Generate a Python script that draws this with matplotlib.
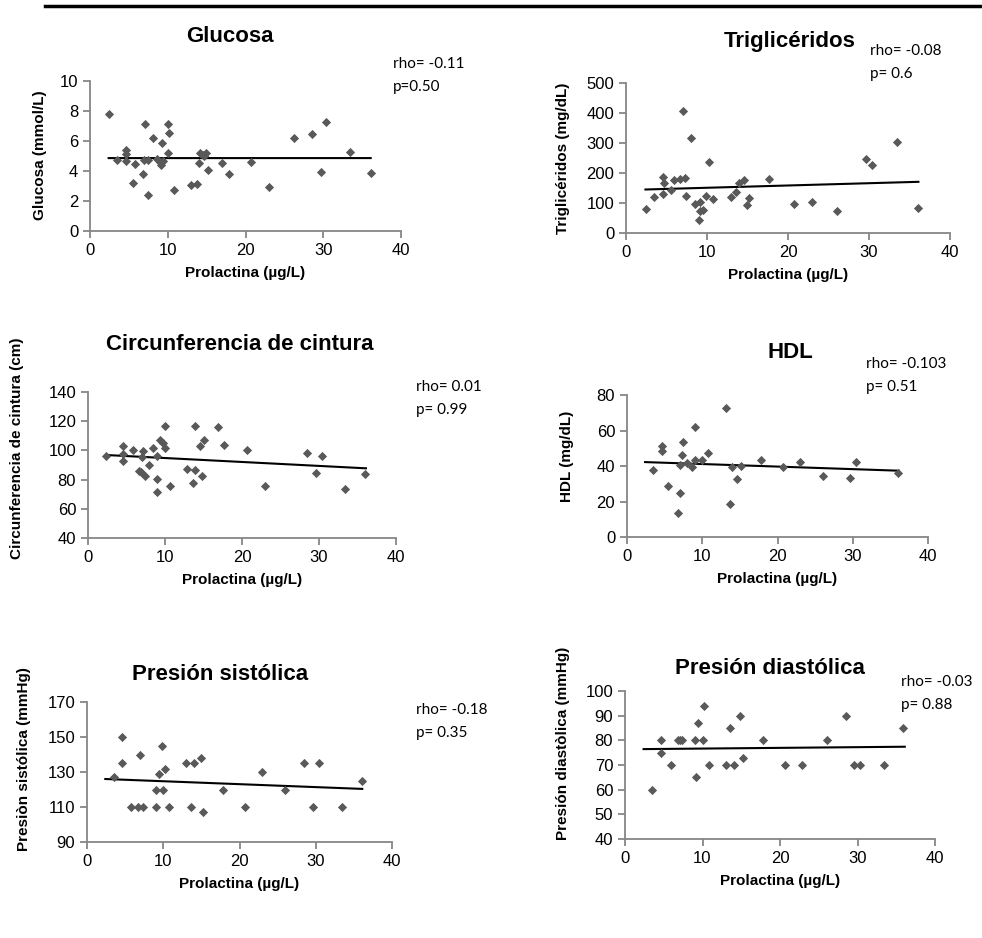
import numpy as np
import matplotlib
matplotlib.use("Agg")
import matplotlib.pyplot as plt

plt.rcParams['font.family'] = ['Liberation Sans', 'DejaVu Sans']

# prolactina (x) and each variable (y)
glu_x = [2.5, 3.5, 4.6, 4.6, 4.6, 5.5, 5.8, 6.8, 7.1, 7.0, 7.4, 7.5, 8.1, 8.6, 9.2, 9.0, 9.1, 9.4, 10.0, 10.2,
         10.0, 10.8, 13.0, 13.7, 14.1, 14.0, 14.5, 14.7, 14.9, 15.2, 17.0, 17.9, 20.7, 23.0, 26.2, 28.5, 29.7, 30.4, 33.5, 36.1]
glu_y = [7.78, 4.7, 5.38, 5.15, 4.64, 3.22, 4.44, 3.82, 7.1, 4.7, 4.75, 2.38, 6.2, 4.82, 5.87, 4.6, 4.38, 4.67, 7.16, 6.53,
         5.22, 2.76, 3.04, 3.11, 5.22, 4.56, 5.04, 4.98, 5.2, 4.09, 4.56, 3.8, 4.6, 2.96, 6.2, 6.44, 3.91, 7.27, 5.27, 3.89]

tg_x = [2.5, 3.5, 4.6, 4.7, 4.6, 5.5, 5.9, 6.7, 7.3, 7.0, 7.4, 8.0, 8.5, 9.1, 9.1, 9.0, 9.5, 10.2, 9.9, 10.7,
        13.0, 13.6, 14.0, 14.6, 14.9, 15.2, 17.7, 20.7, 23.0, 26.1, 29.6, 30.4, 33.4, 36.0]
tg_y = [80, 121, 187, 167, 131, 144, 176, 180, 182, 407, 122, 318, 96, 102, 72, 44, 78, 237, 122, 113,
        120, 136, 167, 178, 94, 116, 181, 96, 104, 74, 247, 227, 304, 84]

cc_x = [2.4, 4.5, 4.5, 4.5, 5.8, 7.0, 7.2, 6.6, 6.9, 7.4, 7.9, 8.5, 9.0, 9.0, 8.9, 9.4, 9.8, 10.0, 10.0, 10.7,
        12.9, 13.6, 13.9, 13.9, 14.5, 14.8, 15.1, 16.9, 17.7, 20.7, 23.0, 28.5, 29.6, 30.4, 33.4, 36.0]
cc_y = [96, 103, 97.7, 92.9, 100, 95.4, 99.4, 86.2, 85.5, 82.5, 89.9, 101.9, 95.9, 80.2, 71.6, 107, 105, 117, 101.9, 75.6,
        87.1, 77.9, 86.6, 117, 103, 82.7, 107, 116, 104, 100, 75.8, 98.2, 84.8, 95.9, 73.7, 83.9]

hdl_x = [3.5, 4.6, 4.6, 5.5, 6.8, 7.1, 7.0, 7.3, 7.5, 8.0, 8.6, 9.0, 9.1, 10.0, 10.8, 13.1, 13.7, 14.0, 14.6, 15.2,
         17.8, 20.7, 23.0, 26.1, 29.6, 30.4, 36.0]
hdl_y = [37.6, 51.4, 48.4, 28.8, 13.8, 24.7, 40.4, 46.2, 53.8, 41.9, 39.3, 62.1, 43.2, 43.2, 47.3, 72.9, 18.7, 39.3, 32.5, 40,
         43.2, 39.6, 42.4, 34.4, 33.3, 42.2, 35.9]

pas_x = [3.5, 4.6, 4.6, 5.8, 6.7, 7.0, 7.4, 9.0, 9.1, 9.5, 9.9, 10.0, 10.2, 10.8, 13.0, 13.7, 14.0, 14.9, 15.2, 17.9,
         20.7, 23.0, 26.0, 28.5, 29.6, 30.4, 33.4, 36.0]
pas_y = [127, 135, 150, 110, 110, 140, 110, 120, 110, 129, 145, 120, 132, 110, 135, 110, 135, 138, 107, 120,
         110, 130, 120, 135, 110, 135, 110, 125]

pad_x = [3.5, 4.6, 4.7, 5.9, 6.8, 7.1, 7.4, 9.1, 9.0, 9.4, 10.0, 10.2, 10.8, 13.0, 13.6, 14.0, 14.9, 15.2, 17.8,
         20.7, 22.9, 26.1, 28.5, 29.5, 30.3, 33.4, 35.9]
pad_y = [60, 75, 80, 70, 80, 80, 80, 65, 80, 87, 80, 94, 70, 70, 85, 70, 90, 73, 80,
         70, 70, 80, 90, 70, 70, 70, 85]

titles = ["Glucosa", "Triglicéridos", "Circunferencia de cintura", "HDL", "Presión sistólica", "Presión diastólica"]
ylabels = ["Glucosa (mmol/L)", "Triglicéridos (mg/dL)", "Circunferencia de cintura (cm)", "HDL (mg/dL)",
           "Presiòn sistólica (mmHg)", "Presión diastòlica (mmHg)"]
stats = [("rho= -0.11", "p=0.50"), ("rho= -0.08", "p= 0.6"), ("rho= 0.01", "p= 0.99"),
         ("rho= -0.103", "p= 0.51"), ("rho= -0.18", "p= 0.35"), ("rho= -0.03", "p= 0.88")]
yticks = [np.arange(0, 11, 2), np.arange(0, 501, 100), np.arange(40, 141, 20),
          np.arange(0, 81, 20), np.arange(90, 171, 20), np.arange(40, 101, 10)]

W, H = 982, 938
fig = plt.figure(figsize=(W / 100, H / 100), dpi=100)

# axes boxes in pixels: left, right, top, bottom
boxes = [(90, 401, 81, 231), (626, 950, 83, 233), (88, 396, 392, 538),
         (627, 928, 395, 537), (87, 392, 702, 842), (625, 935, 691, 839)]
# title (x, y), stats (x, y of first line), ylabel (x, y)
title_pos = [(230, 36), (790, 42), (240, 345), (790, 352), (220, 675), (770, 668)]
stat_pos = [(393, 64), (870, 51), (416, 387), (866, 364), (416, 710), (901, 682)]
ylab_pos = [(40, 155), (563, 158), (17, 448), (567, 456), (24, 759), (563, 743)]

series = [(glu_x, glu_y), (tg_x, tg_y), (cc_x, cc_y), (hdl_x, hdl_y), (pas_x, pas_y), (pad_x, pad_y)]
x_lo = min(min(s[0]) for s in series)
x_hi = max(max(s[0]) for s in series)

grey = "#868686"


def fx(px):
    return px / W


def fy(py):
    return 1 - py / H


for i, (xs, ys) in enumerate(series):
    l, r, t, b = boxes[i]
    ax = fig.add_axes([fx(l), fy(b), (r - l) / W, (b - t) / H])
    ax.scatter(xs, ys, marker="D", s=22, color="#595959", zorder=3, linewidths=0)
    k, c = np.polyfit(xs, ys, 1)
    lx = np.array([x_lo, x_hi])
    ax.plot(lx, k * lx + c, color="black", lw=1.5, zorder=2)
    ax.set_xlim(0, 40)
    ax.set_xticks([0, 10, 20, 30, 40])
    yt = yticks[i]
    ax.set_ylim(yt[0], yt[-1])
    ax.set_yticks(yt)
    for s in ["top", "right"]:
        ax.spines[s].set_visible(False)
    for s in ["left", "bottom"]:
        ax.spines[s].set_color(grey)
        ax.spines[s].set_linewidth(1.3)
    ax.tick_params(colors=grey, labelcolor="black", labelsize=12, length=5, width=1.3, direction="out")
    ax.set_xlabel("Prolactina (µg/L)", fontsize=11, fontweight="bold", labelpad=6)
    ax.patch.set_alpha(0)

    tx, ty = title_pos[i]
    fig.text(fx(tx), fy(ty), titles[i], ha="center", va="center", fontsize=16, fontweight="bold")
    sx, sy = stat_pos[i]
    fig.text(fx(sx), fy(sy), stats[i][0], ha="left", va="center", fontsize=11, family=["Lato", "DejaVu Sans"])
    fig.text(fx(sx), fy(sy + 23), stats[i][1], ha="left", va="center", fontsize=11, family=["Lato", "DejaVu Sans"])
    yx, yy = ylab_pos[i]
    fig.text(fx(yx), fy(yy), ylabels[i], ha="center", va="center", rotation=90, fontsize=11, fontweight="bold")

# top rule
fig.add_artist(plt.Line2D([fx(45), 1.0], [fy(6), fy(6)], color="black", lw=2.5))

fig.savefig("out.png", dpi=100)
